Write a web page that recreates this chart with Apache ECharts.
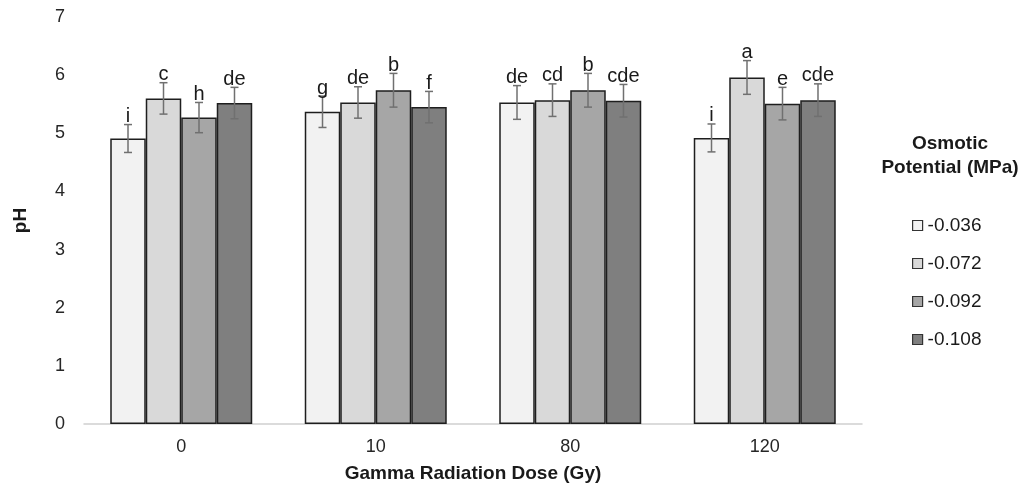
<!DOCTYPE html>
<html>
<head>
<meta charset="utf-8">
<script src="https://cdn.jsdelivr.net/npm/echarts@6/dist/echarts.min.js"></script>
<style>
html,body{margin:0;padding:0;background:#fff;}
#main{width:1023px;height:489px;}
</style>
</head>
<body>
<div id="main"></div>
<script>
const categories = ['0', '10', '80', '120'];
const seriesNames = ['-0.036', '-0.072', '-0.092', '-0.108'];
const values = [
  [4.91, 5.37, 5.53, 4.92],
  [5.60, 5.53, 5.57, 5.96],
  [5.27, 5.74, 5.74, 5.51],
  [5.52, 5.45, 5.56, 5.57]
];
const errors = [
  [0.24, 0.27, 0.29, 0.24],
  [0.27, 0.27, 0.28, 0.29],
  [0.26, 0.29, 0.29, 0.28],
  [0.27, 0.27, 0.28, 0.28]
];
const letters = [
  ['i', 'g', 'de', 'i'],
  ['c', 'de', 'cd', 'a'],
  ['h', 'b', 'b', 'e'],
  ['de', 'f', 'cde', 'cde']
];
const yTicks = [0, 1, 2, 3, 4, 5, 6, 7];

const colors = ['#f2f2f2', '#d9d9d9', '#a6a6a6', '#7f7f7f'];
const gapRatio = 0.27;
const font = '"Liberation Sans", Arial, sans-serif';

const chart = echarts.init(document.getElementById('main'));

const series = [];
seriesNames.forEach((name, i) => {
  series.push({
    name: name,
    type: 'bar',
    data: values[i],
    barGap: '0%',
    barCategoryGap: (gapRatio * 100) + '%',
    itemStyle: { color: colors[i], borderColor: '#1e1e1e', borderWidth: 1.5 },
    emphasis: { disabled: true },
    animation: false
  });
});
seriesNames.forEach((name, i) => {
  series.push({
    type: 'custom',
    name: name + '_err',
    data: values[i].map((v, j) => [j, v, errors[i][j]]),
    encode: { x: 0, y: 1 },
    z: 5,
    animation: false,
    renderItem: function (params, api) {
      const band = api.size([1, 0])[0];
      const bw = band * (1 - gapRatio) / 4;
      const center = api.coord([api.value(0), 0]);
      const x = center[0] + (i - 1.5) * bw;
      const v = api.value(1), e = api.value(2);
      const top = api.coord([api.value(0), v + e])[1];
      const bot = api.coord([api.value(0), v - e])[1];
      const cap = 4;
      const st = { stroke: '#707070', lineWidth: 1.5 };
      return {
        type: 'group',
        children: [
          { type: 'line', shape: { x1: x, y1: top, x2: x, y2: bot }, style: st },
          { type: 'line', shape: { x1: x - cap, y1: top, x2: x + cap, y2: top }, style: st },
          { type: 'line', shape: { x1: x - cap, y1: bot, x2: x + cap, y2: bot }, style: st },
          { type: 'text', x: x, y: top + 2, style: {
              text: letters[i][params.dataIndex], fill: '#1a1a1a',
              font: '20px ' + font, align: 'center', verticalAlign: 'bottom' } }
        ]
      };
    }
  });
});

chart.setOption({
  backgroundColor: '#ffffff',
  animation: false,
  grid: { left: 84, right: 161, top: 17, bottom: 65 },
  xAxis: {
    type: 'category',
    data: categories,
    axisLine: { show: true, lineStyle: { color: '#d0d0d0', width: 1.5 } },
    axisTick: { show: false },
    axisLabel: { color: '#262626', fontSize: 18, fontFamily: font, margin: 14 },
    name: 'Gamma Radiation Dose (Gy)',
    nameLocation: 'middle',
    nameGap: 40,
    nameTextStyle: { color: '#1a1a1a', fontSize: 19, fontWeight: 'bold', fontFamily: font }
  },
  yAxis: {
    type: 'value',
    min: yTicks[0],
    max: yTicks[yTicks.length - 1],
    interval: 1,
    splitLine: { show: false },
    axisLine: { show: false },
    axisTick: { show: false },
    axisLabel: { color: '#262626', fontSize: 18, fontFamily: font, margin: 19 },
    name: 'pH',
    nameLocation: 'middle',
    nameGap: 54,
    nameTextStyle: { color: '#1a1a1a', fontSize: 19, fontWeight: 'bold', fontFamily: font }
  },
  legend: {
    data: seriesNames,
    orient: 'vertical',
    left: 912,
    top: 216,
    padding: 0,
    icon: 'rect',
    itemWidth: 10,
    itemHeight: 10,
    itemGap: 19,
    itemStyle: { borderColor: '#333', borderWidth: 1.2 },
    textStyle: { color: '#1a1a1a', fontSize: 19, fontFamily: font },
    selectedMode: false
  },
  graphic: [{
    type: 'text',
    x: 950,
    y: 132,
    style: {
      text: 'Osmotic\nPotential (MPa)',
      font: 'bold 19px ' + font,
      fill: '#1a1a1a',
      align: 'center',
      verticalAlign: 'top',
      lineHeight: 24
    }
  }],
  series: series
});
</script>
</body>
</html>
